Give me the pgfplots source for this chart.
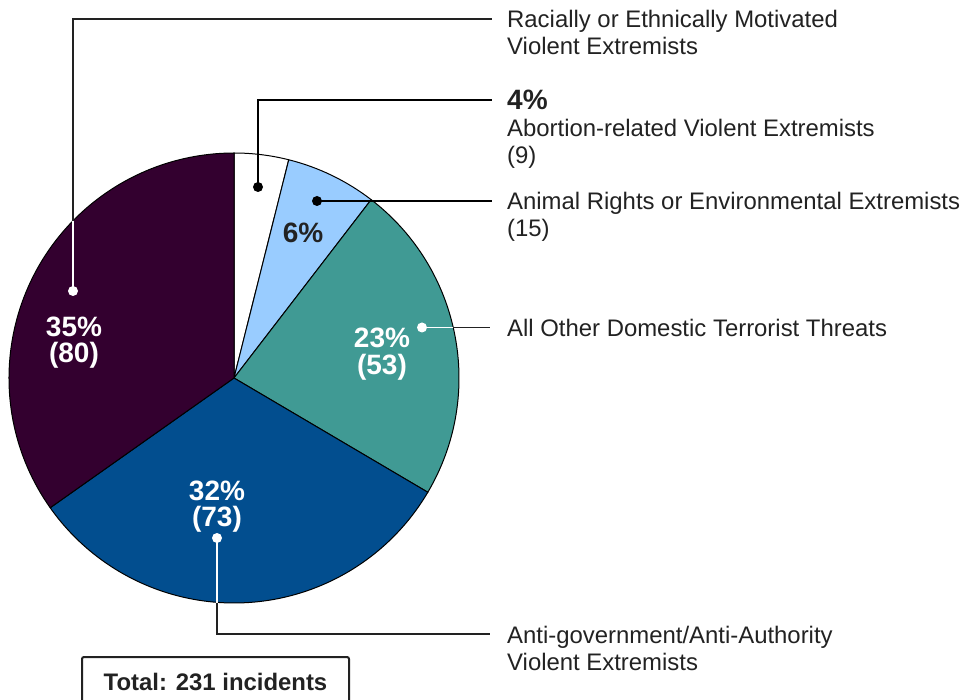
\documentclass[border=0pt]{standalone}
\usepackage{pgfplots}
\pgfplotsset{compat=1.18}
\usepackage{pgfplotstable}
\usepackage{fontspec}
\setmainfont{Liberation Sans}
\definecolor{cRace}{HTML}{33002F}
\definecolor{cGov}{HTML}{024E8F}
\definecolor{cOther}{HTML}{409A94}
\definecolor{cAnimal}{HTML}{99CCFF}
\definecolor{cAbort}{HTML}{FFFFFF}
\definecolor{txt}{HTML}{222222}

% incidents per category: Abortion, Animal, All Other, Anti-gov, Racially
\pgfplotstableread{
count
9
15
53
73
80
}\piedata

\newcommand\reg{\fontsize{23.9}{27}\selectfont}
\newcommand\bld{\fontsize{28}{26}\selectfont\bfseries}

\begin{document}
\begin{tikzpicture}
\gdef\total{0}
\foreach \i in {0,...,4}{
  \pgfplotstablegetelem{\i}{count}\of\piedata
  \pgfmathsetmacro\t{\total+\pgfplotsretval}
  \xdef\total{\t}
}
\gdef\cum{0}
\gdef\piecmds{}
\foreach \i/\c in {0/cAbort,1/cAnimal,2/cOther,3/cGov,4/cRace}{
  \pgfplotstablegetelem{\i}{count}\of\piedata
  \pgfmathsetmacro\s{90-360*(\cum/\total)}
  \pgfmathsetmacro\nc{\cum+\pgfplotsretval}
  \pgfmathsetmacro\e{90-360*(\nc/\total)}
  \xdef\cum{\nc}
  \xdef\piecmds{\unexpanded\expandafter{\piecmds}\noexpand\filldraw[fill=\c, draw=black, line width=1pt, line join=round] (axis cs:234,378) -- ++(\s:225pt) arc[start angle=\s, end angle=\e, radius=225pt] -- cycle;}
}
\begin{axis}[
  scale only axis, width=978pt, height=700pt,
  xmin=0, xmax=978, ymin=0, ymax=700, y dir=reverse,
  hide axis, clip=false]
\path (axis cs:0,0) rectangle (axis cs:978,700);
\piecmds
% leader lines
\begin{scope}[line width=1.3pt]
\draw[white] (axis cs:73,291) -- (axis cs:73,221);
\draw[txt] (axis cs:73,221) -- (axis cs:73,19) -- (axis cs:492,19);
\fill[white] (axis cs:73,291) circle[radius=5pt];
\draw[black] (axis cs:258,187) -- (axis cs:258,100) -- (axis cs:492,100);
\fill[black] (axis cs:258,187) circle[radius=5pt];
\draw[black] (axis cs:317,201) -- (axis cs:492,201);
\fill[black] (axis cs:317,201) circle[radius=5pt];
\draw[white] (axis cs:422,327.5) -- (axis cs:453,327.5);
\draw[txt] (axis cs:453,327.5) -- (axis cs:490,327.5);
\fill[white] (axis cs:422,327.5) circle[radius=5pt];
\draw[white] (axis cs:217,538) -- (axis cs:217,602.5);
\draw[txt] (axis cs:217,602.5) -- (axis cs:217,634) -- (axis cs:490,634);
\fill[white] (axis cs:217,538) circle[radius=5pt];
\end{scope}
% right-hand texts
\begin{scope}[every node/.style={inner sep=0pt, anchor=base west, text=txt}]
\node at (axis cs:507,28) {\reg Racially or Ethnically Motivated};
\node at (axis cs:507,55) {\reg Violent Extremists};
\node at (axis cs:507,110) {\bld 4\%};
\node at (axis cs:507,136.5) {\reg Abortion-related Violent Extremists};
\node at (axis cs:507,163.5) {\reg (9)};
\node at (axis cs:507,210) {\reg Animal Rights or Environmental Extremists};
\node at (axis cs:507,237) {\reg (15)};
\node at (axis cs:507,336.5) {\reg All Other Domestic Terrorist Threats};
\node at (axis cs:507,643) {\reg Anti-government/Anti-Authority};
\node at (axis cs:507,670) {\reg Violent Extremists};
\end{scope}
% in-pie labels
\begin{scope}[every node/.style={inner sep=0pt, anchor=base, text=white}]
\node at (axis cs:74,337) {\bld 35\%};
\node at (axis cs:74,363) {\bld (80)};
\node at (axis cs:217,501) {\bld 32\%};
\node at (axis cs:217,527) {\bld (73)};
\node at (axis cs:382,348) {\bld 23\%};
\node at (axis cs:382,375) {\bld (53)};
\node[text=txt] at (axis cs:303,243) {\bld 6\%};
\end{scope}
% total box
\draw[txt, line width=2pt, rounded corners=2pt] (axis cs:82,700) -- (axis cs:82,657) -- (axis cs:349,657) -- (axis cs:349,700);
\node[inner sep=0pt, anchor=base, text=txt] at (axis cs:215.5,690) {\fontsize{23.9}{27}\selectfont\bfseries Total: 231 incidents};
\end{axis}
\pgfresetboundingbox
\useasboundingbox (current axis.south west) rectangle (current axis.north east);
\end{tikzpicture}
\end{document}
